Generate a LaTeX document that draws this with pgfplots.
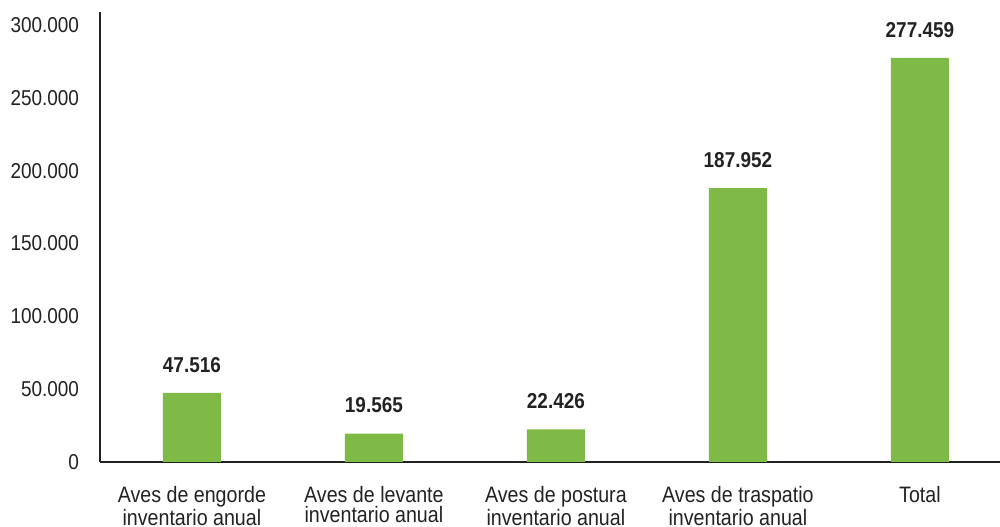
\documentclass[border=0pt]{standalone}
\usepackage{fontspec}
\setmainfont{Liberation Sans}[FakeStretch=0.88]
\usepackage{pgfplots}
\usetikzlibrary{calc}
\pgfplotsset{compat=1.18}
\definecolor{barg}{RGB}{127,186,71}
\definecolor{axc}{RGB}{34,34,34}
\begin{document}
\begin{tikzpicture}
\begin{axis}[
  scale only axis,
  width=450bp, height=225bp,
  xmin=-0.505, xmax=4.44,
  ymin=0, ymax=308924,
  axis x line=bottom, axis y line=left,
  axis line style={-, line width=1bp, color=axc},
  major tick length=0pt,
  ytick={0,50000,100000,150000,200000,250000,300000},
  xtick={0,1,2,3,4},
  xticklabels={{Aves de engorde\\inventario anual},{Aves de levante\\inventario anual},{Aves de postura\\inventario anual},{Aves de traspatio\\inventario anual},{Total}},
  xticklabel style={align=center, font=\fontsize{11.2}{10}\selectfont, inner sep=0pt, anchor=north, yshift=-12bp},
  yticklabel style={font=\fontsize{10.8}{12}\selectfont, inner sep=0pt, anchor=east, xshift=-10.3bp, text=axc},
  scaled y ticks=false,
  /pgf/number format/.cd, fixed, 1000 sep={.}, assume math mode=true,
  /pgfplots/.cd,
  ybar, bar width=29bp,
  nodes near coords,
  every node near coord/.append style={font=\fontsize{10.8}{12}\selectfont\bfseries, inner sep=0pt, anchor=south, yshift=10bp, text=axc},
  tick label style={text=axc},
]
\addplot[fill=barg, draw=none] coordinates {(0,47516) (1,19565) (2,22426) (3,187952) (4,277459)};
\coordinate (o) at (rel axis cs:0,0);
\end{axis}
\pgfresetboundingbox
\useasboundingbox ($(o)+(-50bp,-32.5bp)$) rectangle ++(500bp,263.5bp);
\end{tikzpicture}
\end{document}
